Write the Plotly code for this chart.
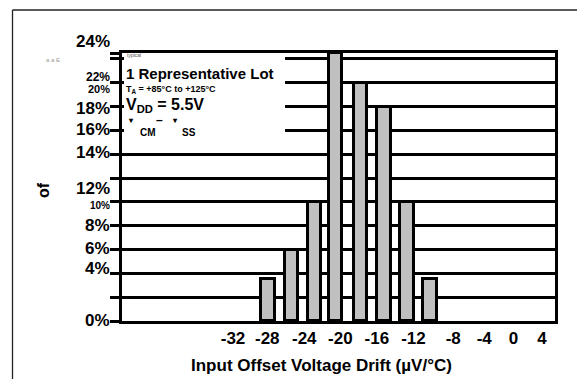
import plotly.graph_objects as go

# Histogram of input offset voltage drift, one representative lot
drift_bins = [-28, -25.5, -23, -20.75, -18, -15.5, -13, -10.5]   # µV/°C, bin centres
percent_units = [3.5, 6, 10, 22.5, 20, 18, 10, 3.5]               # % of units

# x-axis labels and where they sit along the drift axis
x_tick_labels = ["-32", "-28", "-24", "-20", "-16", "-12", "-8", "-4", "0", "4"]
x_tick_pos = [-31.8, -28.1, -24.1, -20.2, -16.25, -12.3, -8.0, -4.65, -1.5, 1.6]

# y-axis grid steps and the labels printed beside the axis
y_grid = [0, 2, 4, 6, 8, 10, 12, 14, 16, 18, 20, 22, 22.5]
y_labels = ["24%", "22%", "20%", "18%", "16%", "14%", "12%", "10%", "8%", "6%", "4%", "0%"]

FONT = "Liberation Sans, Arial, sans-serif"
W, H = 577, 379
L, R, T, B = 122, 22, 53, 58
PW, PH = W - L - R, H - T - B

# label rows (pixels from the top) and sizes for the y-axis labels
y_label_rows = [42, 77, 89, 108, 129.5, 152, 188, 205, 225, 248, 268, 320]
y_label_size = [17, 12, 11, 17, 17, 17, 17, 10, 17, 17, 17, 17]


def px_x(p):
    return (p - L) / PW


def px_y(p):
    return (H - B - p) / PH


fig = go.Figure()
fig.add_trace(go.Bar(
    x=drift_bins, y=percent_units, width=1.45,
    marker=dict(color="#c0c0c0", line=dict(color="black", width=3)),
    hoverinfo="x+y",
))

annotations = []


def note(text, x, y, size, color="black", xanchor="left", angle=0):
    annotations.append(dict(
        text=text, x=px_x(x), y=px_y(y), xref="paper", yref="paper",
        xanchor=xanchor, yanchor="middle", showarrow=False, textangle=angle,
        font=dict(family=FONT, size=size, color=color),
    ))


for lab, row, size in zip(y_labels, y_label_rows, y_label_size):
    note(f"<b>{lab}</b>", 111.5, row, size, xanchor="right")

# condition block
note("<b>1 Representative Lot</b>", 124, 73, 15)
note("<b>T<sub>A</sub> = +85°C to +125°C</b>", 124, 89, 9)
note("<b>V<sub>DD</sub> = 5.5V</b>", 124, 106, 16)
note("<b>▾</b>", 126, 121, 8)
note("<b>–</b>", 154, 120, 12)
note("<b>▾</b>", 170, 121, 8)
note("<b>CM</b>", 138, 132, 10)
note("<b>SS</b>", 180, 132, 10)
note("typical", 125, 55, 5, color="#555")
note("a a E", 44, 60, 6, color="#999")

# axis titles
note("<b>of</b>", 43, 190, 16, xanchor="center", angle=-90)
note("<b>Input Offset Voltage Drift (µV/°C)</b>", 321, 365, 17, xanchor="center")

shapes = [
    # white panel behind the condition text
    dict(type="rect", xref="paper", yref="paper",
         x0=px_x(124), x1=px_x(285), y0=px_y(140), y1=px_y(56),
         fillcolor="white", line=dict(width=0), layer="above"),
    # outer frame
    dict(type="line", xref="paper", yref="paper",
         x0=px_x(12.5), x1=px_x(12.5), y0=px_y(10), y1=px_y(379),
         line=dict(color="#222", width=1.3)),
    dict(type="line", xref="paper", yref="paper",
         x0=px_x(12.5), x1=px_x(577), y0=px_y(10), y1=px_y(10),
         line=dict(color="#222", width=1.3)),
]

fig.update_layout(
    width=W, height=H,
    margin=dict(l=L, r=R, t=T, b=B, pad=0),
    paper_bgcolor="white", plot_bgcolor="white",
    showlegend=False, bargap=0,
    font=dict(family=FONT, color="black"),
    annotations=annotations, shapes=shapes,
    xaxis=dict(
        range=[-43.8, 3.0], showgrid=False, zeroline=False,
        tickmode="array", tickvals=x_tick_pos,
        ticktext=[f"<b>{t}</b>" for t in x_tick_labels],
        ticks="", tickfont=dict(family=FONT, size=17, color="black"),
        showline=True, linecolor="black", linewidth=3, mirror=True,
    ),
    yaxis=dict(
        range=[0, 22.5], tickmode="array", tickvals=y_grid,
        showticklabels=False, ticks="outside", ticklen=9, tickwidth=3,
        tickcolor="black", showgrid=True, gridcolor="black", gridwidth=3,
        zeroline=False, showline=True, linecolor="black", linewidth=3,
        mirror=True,
    ),
)

fig.write_html("out.html")
